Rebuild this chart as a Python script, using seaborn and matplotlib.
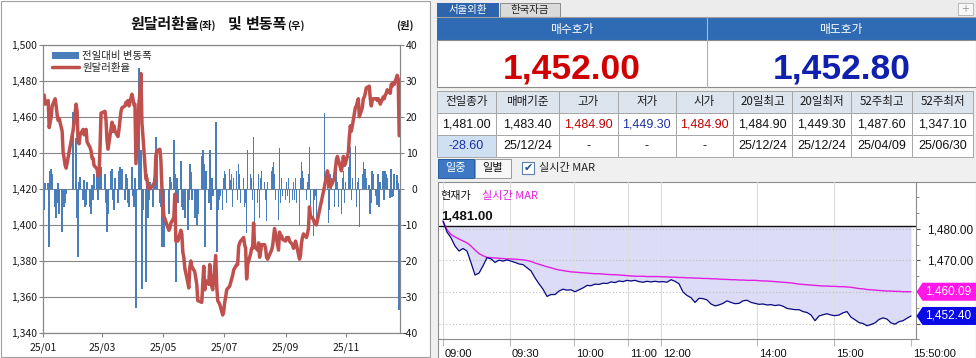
import numpy as np
import pandas as pd
import matplotlib
matplotlib.use("Agg")
import matplotlib.pyplot as plt
import matplotlib.font_manager as fm
from matplotlib.patches import Rectangle, Polygon, Patch
from matplotlib.lines import Line2D
from matplotlib.transforms import ScaledTranslation
import seaborn as sns

# ---------------- daily USD/KRW 2025 (left chart) ----------------
rate_jan = [1472, 1467, 1469, 1454, 1457, 1460, 1466, 1470, 1466, 1461, 1458, 1459, 1452, 1440, 1437, 1433, 1431.5, 1452.5]
rate_feb = [1467, 1463, 1446, 1445, 1450, 1453, 1450, 1451, 1453, 1446, 1443, 1441, 1437, 1437, 1433, 1431, 1427, 1428, 1443, 1462]
rate_mar = [1463, 1458, 1447, 1442, 1453, 1457, 1452, 1455, 1452, 1449, 1453, 1458, 1463, 1465, 1466, 1468, 1467, 1469, 1466, 1472.5]
rate_apr = [1470, 1466.5, 1467, 1434, 1467.5, 1473, 1484, 1456.5, 1449.5, 1425.5, 1426, 1421, 1420, 1420, 1422, 1423, 1424, 1438.5, 1441, 1442, 1436, 1421]
rate_may = [1405, 1397, 1398, 1401, 1404, 1417, 1391, 1392, 1391, 1397, 1395, 1385, 1382, 1376, 1368, 1365, 1376, 1380, 1377]
rate_jun = [1374, 1367, 1358, 1357, 1367, 1377, 1364, 1369, 1367, 1378, 1370, 1366, 1364, 1383, 1366, 1358, 1357, 1356, 1350]
rate_jul = [1352, 1357, 1360, 1364, 1366, 1368, 1370, 1372, 1375, 1378, 1378, 1388, 1390, 1391, 1393, 1389, 1387, 1370, 1378, 1384, 1387, 1387, 1401]
rate_aug = [1388, 1386, 1390, 1382, 1385, 1389, 1389, 1387, 1382, 1381, 1386, 1388, 1393, 1398, 1395, 1386, 1396, 1393, 1394, 1392]
rate_sep = [1391, 1393, 1392, 1393, 1391, 1389, 1387, 1388, 1391, 1389, 1381, 1383, 1390, 1393, 1395, 1393, 1395, 1398, 1410, 1405, 1403, 1401]
rate_oct = [1401, 1400, 1421, 1430, 1427, 1421, 1424, 1422, 1426, 1431, 1436, 1438, 1436, 1430, 1433, 1438, 1433, 1434]
rate_nov = [1440, 1449, 1455, 1452, 1455, 1465, 1466, 1468, 1470, 1460, 1465, 1470, 1471, 1473, 1476, 1477, 1470, 1466, 1469, 1470]
rate_dec = [1470, 1469, 1470, 1469, 1467, 1471, 1470, 1472, 1473, 1475, 1473, 1478, 1477, 1479, 1478, 1483, 1481, 1449.5]

chg_jan = [-6, 1.5, 1.5, -16, 5, 5.5, 4, -5, -8, -4, 1.5, -7, -12, -5, -5, -4, -1.5, 21.4]
chg_feb = [14, -8, -19, 2, 3.3, -3, 2.5, -5, -4.5, 2, -5, -7, 1, -3, 4, 6, -3, 4.5, 4, 6]
chg_mar = [4, -4, -12, -7, 5, 5.6, -3, -6, 3, -4, 5, 6, 5, 5.5, -3, 4, 3, -4, -5, 6]
chg_apr = [-2, -5, 3, -33, 33.4, 5.5, 10.7, -27.7, -6, -25.8, 4, -8, -3, 2, -5, 3, 5, 14.4, 11, -4, -5, -16]
chg_may = [-16, -7, 3.3, 2, 13.5, 4, -25.8, 3, -4, 7.8, -5, -6, -4, -8, -11.5, -3, 6.9, 4.7, -3]
chg_jun = [-8, -10, -7, 9, 10.7, 7, -16, 5, -4, 10.7, -6, 3, -2, 18.6, -17.5, -6, -3, -2, -6]
chg_jul = [3, 5, 4, -4, 5.6, 2.4, 4, -5, 3, 5, -3, 7, 4, -4, 3, -5, -4, -12.3, 10.7, 4, 3, -3, 14.4]
chg_aug = [-13, -4, 4, -8, 3, 5, 2, -3, -9, 2, 5, 6, 7.5, 4, -3, -8.7, 11.2, -4, 3, -2]
chg_sep = [-3, 2, -2, 3, -4, -3, 2, -3, 3, -4, -10, 3, 7.5, 5, 3, -3, 2, 4, 11.7, -6, -13, -3]
chg_oct = [-2, -10, 21, 5, -9.6, -6, 4, 3, -5, 4, 6, 2, -5, -7, 3, 5, -4, 2]
chg_nov = [6, 9, 11.7, -3, 3, 12, -5, 2, 3, -10.6, 4, 7.5, 3, 5.6, 3, 1, -7, -4, 5, 4]
chg_dec = [-2, -4.5, 4, -5, 2, 5, -3, 5, 4, 3, -2.5, 5.5, -2.2, -2, 4, 3.8, 1.5, -33.7]

market_holidays = ['2025-01-01', '2025-01-27', '2025-01-28', '2025-01-29', '2025-01-30',
                   '2025-03-03', '2025-05-01', '2025-05-05', '2025-05-06', '2025-06-03',
                   '2025-06-06', '2025-08-15', '2025-10-03', '2025-10-06', '2025-10-07',
                   '2025-10-08', '2025-10-09', '2025-12-25']
month_ticks = ['2025-01-01', '2025-03-01', '2025-05-01', '2025-07-01', '2025-09-01', '2025-11-01']
month_labels = ['25/01', '25/03', '25/05', '25/07', '25/09', '25/11']

# ---------------- intraday (right panel) ----------------
intraday_price = [
    1482.5, 1479.0, 1477.2, 1474.6, 1473.0, 1473.8, 1473.0, 1469.3, 1465.4, 1466.0,
    1468.3, 1470.9, 1470.5, 1469.4, 1470.1, 1469.8, 1470.2, 1469.8, 1469.4, 1468.9,
    1468.7, 1467.7, 1466.7, 1464.5, 1462.6, 1460.9, 1458.6, 1459.2, 1459.2, 1460.3,
    1460.9, 1460.6, 1460.7, 1460.1, 1460.7, 1461.3, 1462.1, 1462.0, 1462.5, 1462.4,
    1462.8, 1462.7, 1463.2, 1463.0, 1463.5, 1463.3, 1463.7, 1463.5, 1463.7, 1463.3,
    1463.1, 1463.4, 1463.2, 1463.4, 1463.2, 1463.3, 1463.1, 1463.9, 1463.4, 1462.6,
    1460.0, 1458.9, 1458.2, 1456.7, 1458.0, 1457.9, 1457.5, 1456.2, 1455.6, 1455.9,
    1456.4, 1457.2, 1456.7, 1456.3, 1456.4, 1457.2, 1457.4, 1456.7, 1456.4, 1456.1,
    1456.2, 1455.9, 1456.0, 1455.7, 1455.9, 1455.5, 1454.8, 1454.6, 1454.4, 1454.4,
    1453.8, 1453.5, 1452.7, 1450.9, 1452.4, 1452.8, 1453.1, 1452.7, 1452.5, 1452.7,
    1453.4, 1453.8, 1452.0, 1451.2, 1450.3, 1450.0, 1449.3, 1449.7, 1450.2, 1451.3,
    1451.8, 1451.4, 1450.2, 1449.8, 1450.6, 1450.9, 1451.7, 1452.4]
intraday_mar = [
    1482.5, 1479.8, 1478.2, 1477.5, 1476.8, 1476.2, 1475.6, 1474.6, 1473.3, 1472.2,
    1471.5, 1471.0, 1470.9, 1470.8, 1470.7, 1470.6, 1470.5, 1470.5, 1470.4, 1470.3,
    1470.2, 1470.0, 1469.7, 1469.2, 1468.8, 1468.4, 1468.0, 1467.7, 1467.3, 1467.0,
    1466.8, 1466.6, 1466.4, 1466.3, 1466.2, 1466.1, 1466.0, 1465.9, 1465.8, 1465.8,
    1465.7, 1465.6, 1465.5, 1465.5, 1465.4, 1465.3, 1465.2, 1465.1, 1465.0, 1465.0,
    1465.0, 1464.9, 1464.9, 1464.9, 1464.9, 1464.8, 1464.8, 1464.7, 1464.7, 1464.6,
    1464.6, 1464.5, 1464.5, 1464.4, 1464.4, 1464.3, 1464.3, 1464.2, 1464.2, 1464.1,
    1464.0, 1464.0, 1463.9, 1463.9, 1463.8, 1463.8, 1463.7, 1463.7, 1463.7, 1463.6,
    1463.5, 1463.5, 1463.4, 1463.3, 1463.2, 1463.1, 1463.0, 1462.9, 1462.7, 1462.5,
    1462.4, 1462.3, 1462.2, 1462.1, 1462.0, 1461.9, 1461.9, 1461.8, 1461.8, 1461.7,
    1461.7, 1461.6, 1461.5, 1461.3, 1461.1, 1461.0, 1460.8, 1460.7, 1460.6, 1460.5,
    1460.4, 1460.3, 1460.3, 1460.2, 1460.2, 1460.1, 1460.1, 1460.09]
time_labels = ['09:00', '09:30', '10:00', '11:00', '12:00', '14:00', '15:00', '15:50:00']
time_pos = [0, 16.75, 32.75, 46.25, 54.4, 78.4, 97.75, 117]
intraday_yticks = [1450, 1460, 1470, 1480]
intraday_ylabels = ['', '', '1,470.00', '1,480.00']   # lower two are hidden behind the price tags
prev_close = 1481.00

tab_labels = ['서울외환', '한국자금']
quote_titles = ['매수호가', '매도호가']
quote_values = ['1,452.00', '1,452.80']
table_headers = ['전일종가', '매매기준', '고가', '저가', '시가', '20일최고', '20일최저', '52주최고', '52주최저']
table_values = ['1,481.00', '1,483.40', '1,484.90', '1,449.30', '1,484.90', '1,484.90', '1,449.30', '1,487.60', '1,347.10']
table_sub = ['-28.60', '25/12/24', '-', '-', '-', '25/12/24', '25/12/24', '25/04/09', '25/06/30']

# ---------------- style ----------------
sns.set_theme(style="white")
KR = ['Noto Sans CJK KR', 'DejaVu Sans']
plt.rcParams['font.family'] = KR
plt.rcParams['axes.unicode_minus'] = False

avail = {f.name for f in fm.fontManager.ttflist}
HAS_NARROW = 'Liberation Sans Narrow' in avail
NUM = 'Liberation Sans Narrow' if HAS_NARROW else 'Liberation Sans'


def nf(narrow_size, reg_size):
    return dict(family=[NUM, 'DejaVu Sans'], size=narrow_size if HAS_NARROW else reg_size)


W, H = 976, 358
fig = plt.figure(figsize=(W / 100, H / 100), dpi=100)
fig.patch.set_facecolor('white')


def rect(x0, y0, x1, y1):
    return [x0 / W, 1 - y1 / H, (x1 - x0) / W, (y1 - y0) / H]


ui = fig.add_axes([0, 0, 1, 1])
ui.set_xlim(0, W)
ui.set_ylim(H, 0)
ui.axis('off')
ui.set_zorder(-1)


def box(x0, y0, x1, y1, fc, ec='none', lw=0.8, ax=None):
    (ax or ui).add_patch(Rectangle((x0, y0), x1 - x0, y1 - y0, fc=fc, ec=ec, lw=lw))


def txt(x, y, s, ax=None, **kw):
    kw.setdefault('ha', 'center')
    kw.setdefault('va', 'center')
    (ax or ui).text(x, y, s, **kw)


# ======================= LEFT CHART =======================
box(0.5, 0.5, 430, 357, 'white', ec='#A0A0A0', lw=0.8)

bdays = pd.bdate_range('2025-01-02', '2025-12-24')
bdays = bdays[~bdays.isin(pd.to_datetime(market_holidays))]
rates_by_month = [rate_jan, rate_feb, rate_mar, rate_apr, rate_may, rate_jun,
                  rate_jul, rate_aug, rate_sep, rate_oct, rate_nov, rate_dec]
chg_by_month = [chg_jan, chg_feb, chg_mar, chg_apr, chg_may, chg_jun,
                chg_jul, chg_aug, chg_sep, chg_oct, chg_nov, chg_dec]
rows = []
for m, (r, c) in enumerate(zip(rates_by_month, chg_by_month), start=1):
    d = bdays[bdays.month == m]
    n = min(len(d), len(r), len(c))
    for i in range(n):
        rows.append((d[i], r[i], c[i]))
df = pd.DataFrame(rows, columns=['date', 'rate', 'chg'])
origin = pd.Timestamp('2024-12-31')
df['day'] = (df['date'] - origin).dt.days

AX = '#868686'
BAR = '#4A7EBB'
LINE = '#C0504D'

axl = fig.add_axes(rect(43, 44.7, 400, 333))
axb = axl.twinx()
sns.barplot(data=df, x='day', y='chg', ax=axb, native_scale=True, color=BAR,
            saturation=1, width=1.6, errorbar=None, linewidth=0)
sns.lineplot(data=df, x='day', y='rate', ax=axl, color=LINE, lw=2.5,
             solid_joinstyle='round', solid_capstyle='round')
axl.set_zorder(axb.get_zorder() + 1)
axl.patch.set_visible(False)

tick_days = [(pd.Timestamp(t) - origin).days for t in month_ticks]
axl.set_xlim(0.8, 358.8)
axl.set_ylim(1340, 1500)
axb.set_ylim(-40, 40)
lt = np.arange(1340, 1501, 20)
axl.set_yticks(lt)
axl.set_yticklabels([f'{v:,}' for v in lt])
rt = np.arange(-40, 41, 10)
axb.set_yticks(rt)
axb.set_yticklabels([str(v) for v in rt])
axl.set_xticks(tick_days)
axl.set_xticklabels(month_labels)
axl.tick_params(axis='y', left=True, right=False, labelleft=True, labelright=False,
                length=3, width=0.8, color=AX, pad=1.5, labelsize=7.5, labelcolor='#1a1a1a')
axl.tick_params(axis='x', bottom=True, length=3, width=0.8, color=AX, pad=3.5,
                labelsize=7.5, labelcolor='#1a1a1a')
axb.tick_params(axis='y', right=True, left=False, labelright=True, labelleft=False,
                length=3, width=0.8, color=AX, pad=9.5, labelsize=7.5, labelcolor='#1a1a1a')
axb.tick_params(axis='x', bottom=False, labelbottom=False, top=False)
for lab in axb.get_yticklabels():
    lab.set_ha('right')
axb.yaxis.grid(True, color=AX, lw=0.8)
axb.xaxis.grid(False)
axb.set_axisbelow(True)
axl.grid(False)
for a in (axl, axb):
    for s in a.spines.values():
        s.set_color(AX)
        s.set_linewidth(0.8)
    a.set_xlabel('')
    a.set_ylabel('')

handles = [Patch(fc=BAR, ec='none', label='전일대비 변동폭'),
           Line2D([0], [0], color=LINE, lw=2.5, label='원달러환율')]
axl.legend(handles=handles, loc='upper left', bbox_to_anchor=(52 / W, 1 - 51 / H),
           bbox_transform=fig.transFigure, frameon=False, fontsize=7.5,
           handlelength=2.6, handleheight=0.6, handletextpad=0.3, labelspacing=0.15,
           borderpad=0, borderaxespad=0)


def T(x, y, s, **kw):
    fig.text(x / W, 1 - y / H, s, **kw)


T(130, 29, '원달러환율', fontsize=10.8, fontweight='bold', ha='left', va='baseline', color='#111')
T(198.5, 29, '(좌)', fontsize=7.5, fontweight='bold', ha='left', va='baseline', color='#111')
T(228, 29, '및', fontsize=10.8, fontweight='bold', ha='left', va='baseline', color='#111')
T(246, 29, '변동폭', fontsize=10.8, fontweight='bold', ha='left', va='baseline', color='#111')
T(287.5, 29, '(우)', fontsize=7.5, fontweight='bold', ha='left', va='baseline', color='#111')
T(405, 25, '(원)', fontsize=7.5, fontweight='bold', ha='center', va='center', color='#111')

# ======================= RIGHT PANEL =======================
box(430.5, 0, W, H, '#F0F0F0')
# tabs
box(437, 0, 975.5, 17, '#ECECEC')
ui.plot([437, 975.5], [17, 17], color='#A0A0A0', lw=0.8)
box(437, 2.5, 498.5, 16.5, '#2D64AE')
txt(467.5, 9.8, tab_labels[0], color='white', fontsize=7.5)
box(499.5, 2.5, 560, 16.5, '#DADADA', ec='#8C8C8C', lw=0.7)
txt(529.7, 9.8, tab_labels[1], color='#222222', fontsize=7.5)
box(958, 2.5, 973, 15, '#F8F8F8', ec='#B8B8B8', lw=0.7)
txt(965.5, 8.8, '+', color='#9A9A9A', fontsize=7, family='DejaVu Sans')

# quote header and prices
box(437, 17.5, 975.5, 40, '#2E6BB4')
box(437, 40, 975.5, 87, 'white', ec='#8C8C8C', lw=0.8)
ui.plot([706.5, 706.5], [17.5, 40], color='#9FBCE0', lw=0.8)
ui.plot([706.5, 706.5], [40, 87], color='#B0B0B0', lw=0.8)
txt(571.5, 29, quote_titles[0], color='white', fontsize=8.5)
txt(841, 29, quote_titles[1], color='white', fontsize=8.5)
if HAS_NARROW:
    big = dict(family=['Liberation Sans Narrow', 'DejaVu Sans'], size=29, weight='bold')
else:
    big = dict(family=['Liberation Sans', 'DejaVu Sans'], size=25.5, weight='bold')
ui.text(571.5, 78.3, quote_values[0], ha='center', va='baseline', color='#D10000', **big)
ui.text(841.5, 78.3, quote_values[1], ha='center', va='baseline', color='#0F1FAE', **big)

# table
cx = [437, 496.2, 558.8, 618, 675.5, 732.9, 792.1, 851.3, 912.2, 973.2]
ry = [90.5, 112.6, 135.3, 156.5]
val_colors = ['#111111', '#111111', '#C00000', '#1A2FA0', '#C00000',
              '#111111', '#111111', '#111111', '#111111']
for i in range(9):
    x0, x1 = cx[i], cx[i + 1]
    xm = (x0 + x1) / 2
    box(x0, ry[0], x1, ry[1], '#DCE4EE', ec='#A6A6A6', lw=0.7)
    box(x0, ry[1], x1, ry[2], 'white', ec='#A6A6A6', lw=0.7)
    box(x0, ry[2], x1, ry[3], '#CFE0F3' if i == 0 else 'white', ec='#A6A6A6', lw=0.7)
    txt(xm, 101.8, table_headers[i], color='#1a1a1a', fontsize=8.3)
    txt(xm, 124.2, table_values[i], color=val_colors[i], **nf(10.5, 9))
    txt(xm, 146.2, table_sub[i], color='#1A2FA0' if i == 0 else '#111111', **nf(10.5, 9))

# buttons
box(437.5, 159, 473.5, 177.5, '#3C78C4', ec='#2A5C9C', lw=0.7)
txt(455.5, 168.3, '일중', color='white', fontsize=8)
box(474.5, 159, 510.5, 177.5, '#F7F7F7', ec='#9A9A9A', lw=0.7)
txt(492.5, 168.3, '일별', color='#111111', fontsize=8)
box(522, 162, 534, 174, 'white', ec='#5A7FB0', lw=0.8)
txt(528, 168.3, '✔', color='#1F4E9A', fontsize=8, family='DejaVu Sans')
txt(539, 168.3, '실시간 MAR', color='#222222', fontsize=8, ha='left')

# intraday chart box
box(437.5, 182.3, 975.5, 358.5, 'white', ec='#8C8C8C', lw=0.8)

k = np.arange(len(intraday_price))
ti = pd.DataFrame({'k': k, 'price': intraday_price, 'mar': intraday_mar[:len(k)]})
axi = fig.add_axes(rect(439, 182.3, 915.7, 339.3))
axi.patch.set_visible(False)
axi.set_xlim(-1, 118.175)
axi.set_ylim(1445.3, 1494.8)
axi.fill_between(ti['k'], ti['price'], prev_close, color='#DCDCF6', lw=0, zorder=1)
for p in time_pos[:-1]:
    axi.axvline(p, color='#DCDCDC', lw=0.8, zorder=1.2)
for v in intraday_yticks:
    axi.axhline(v, color='#BDBDBD', lw=0.8, ls=(0, (1, 2)), zorder=1.2)
axi.axhline(prev_close, color='#111111', lw=1.0, zorder=2.5)
sns.lineplot(data=ti, x='k', y='mar', ax=axi, color='#E11EE1', lw=1.0, zorder=3)
sns.lineplot(data=ti, x='k', y='price', ax=axi, color='#0A0A80', lw=0.9, zorder=3)
axi.set_xlabel('')
axi.set_ylabel('')
axi.annotate(f'{prev_close:,.2f}', xy=(-0.5, prev_close), xytext=(0, 3),
             textcoords='offset pixels', ha='left', va='bottom', color='#111111',
             fontweight='bold', **nf(11.5, 9.5))

axi.yaxis.tick_right()
axi.set_yticks(intraday_yticks)
axi.set_yticklabels(intraday_ylabels)
axi.set_yticks([1445, 1455, 1465, 1475, 1485, 1490], minor=True)
axi.tick_params(axis='y', which='major', right=True, left=False, length=3, width=0.8,
                color='#555555', pad=5, labelcolor='#111111', labelsize=nf(10, 8.5)['size'])
axi.tick_params(axis='y', which='minor', right=True, left=False, length=2, width=0.6, color='#777777')
for lab in axi.get_yticklabels():
    lab.set_family([NUM, 'DejaVu Sans'])
axi.set_xticks(time_pos)
axi.set_xticklabels(time_labels)
axi.tick_params(axis='x', bottom=True, length=5, width=0.8, color='#BBBBBB', pad=2,
                labelcolor='#111111', labelsize=nf(10, 8)['size'])
for lab in axi.get_xticklabels():
    lab.set_ha('left')
    lab.set_family([NUM, 'DejaVu Sans'])
    lab.set_transform(lab.get_transform() + ScaledTranslation(2 / 100, 0, fig.dpi_scale_trans))
axi.grid(False)
for side in ('top', 'left'):
    axi.spines[side].set_visible(False)
for side in ('right', 'bottom'):
    axi.spines[side].set_color('#8C8C8C')
    axi.spines[side].set_linewidth(0.8)

# overlay layer: chart caption and price tags (tags positioned from data values)
top = fig.add_axes([0, 0, 1, 1])
top.set_xlim(0, W)
top.set_ylim(H, 0)
top.axis('off')
top.set_zorder(10)
txt(440, 195.5, '현재가', ax=top, color='#111111', fontsize=8, ha='left')
txt(482, 195.5, '실시간 MAR', ax=top, color='#E020E0', fontsize=8, ha='left')


def ypix(v):
    return H - axi.transData.transform((0, v))[1]


for val, col in ((intraday_mar[-1], '#FF18E8'), (intraday_price[-1], '#0A0AE6')):
    yc = ypix(val)
    top.add_patch(Polygon([(916.5, yc), (922.5, yc - 9), (976, yc - 9), (976, yc + 9), (922.5, yc + 9)],
                          closed=True, fc=col, ec='none'))
    top.text(948.5, yc, f'{val:,.2f}', ha='center', va='center', color='white', **nf(10, 8.5))

fig.savefig('out.png', dpi=100)
